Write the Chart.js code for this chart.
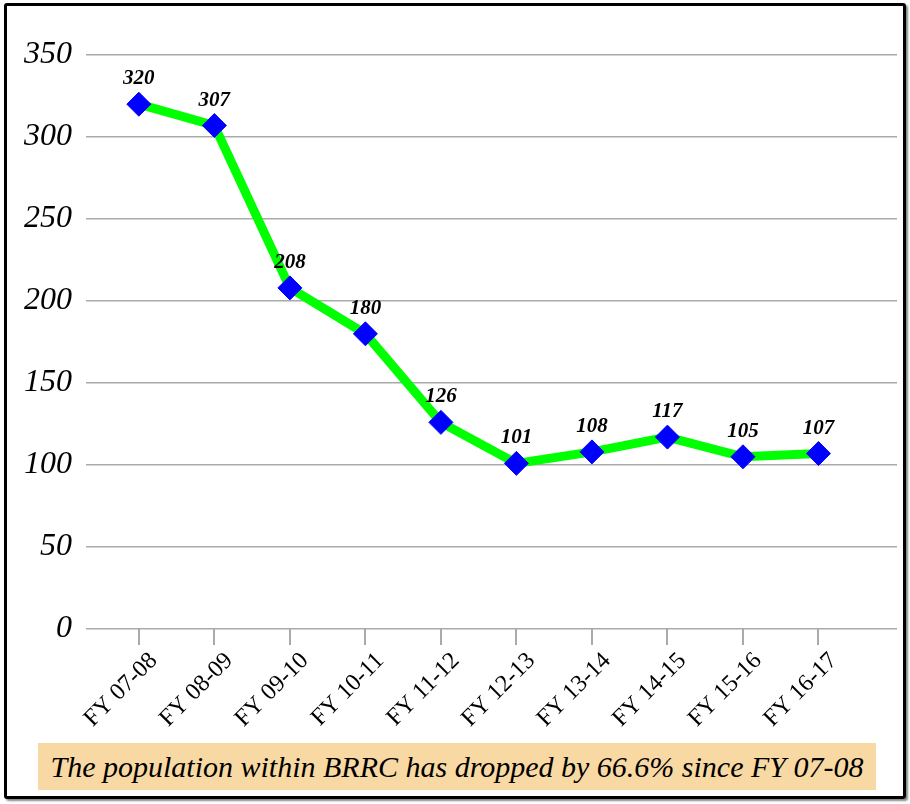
<!DOCTYPE html>
<html>
<head>
<meta charset="utf-8">
<script src="https://cdn.jsdelivr.net/npm/chart.js@4"></script>
<style>
  html, body { margin: 0; padding: 0; background: #fff; }
  #frame {
    position: absolute; left: 4px; top: 3px; width: 896px; height: 790px;
    border: 3px solid #000; border-radius: 3px; box-shadow: 2px 2px 2px #888;
  }
  #wrap { position: absolute; left: 0; top: 0; width: 910px; height: 740px; }
  #note {
    position: absolute; left: 38px; top: 743px; width: 838px; height: 47px;
    background: #f9d9a3; font: italic 30px "Times New Roman", "Liberation Serif", Times, serif;
    line-height: 47px; text-align: center; color: #000;
  }
</style>
</head>
<body>
<div id="frame"></div>
<div id="wrap"><canvas id="chartpoint"></canvas></div>
<div id="note">The population within BRRC has dropped by 66.6% since FY 07-08</div>
<script>
const years = ['FY 07-08', 'FY 08-09', 'FY 09-10', 'FY 10-11', 'FY 11-12', 'FY 12-13', 'FY 13-14', 'FY 14-15', 'FY 15-16', 'FY 16-17'];
const population = [320, 307, 208, 180, 126, 101, 108, 117, 105, 107];
const yTicks = [0, 50, 100, 150, 200, 250, 300, 350];

const serif = '"Times New Roman", "Liberation Serif", Times, serif';
const ctx = document.getElementById('chartpoint');

// numbers above each diamond
const valueLabels = {
    id: 'valueLabels',
    afterDatasetsDraw(chart) {
        const c = chart.ctx;
        const meta = chart.getDatasetMeta(0);
        c.save();
        c.font = 'italic bold 21px ' + serif;
        c.fillStyle = '#000';
        c.textAlign = 'center';
        c.textBaseline = 'alphabetic';
        meta.data.forEach((pt, i) => {
            c.fillText(population[i], pt.x, pt.y - 20);
        });
        c.restore();
    }
};

const chart = new Chart(ctx, {
    type: 'line',
    data: {
        datasets: [{
            data: population.map((v, i) => ({x: i, y: v})),
            borderColor: '#00ff00',
            borderWidth: 9,
            tension: 0,
            pointStyle: 'rectRot',
            pointRadius: 12,
            pointHoverRadius: 12,
            pointBackgroundColor: '#0000ff',
            pointBorderColor: '#0000ff',
            pointBorderWidth: 1,
            clip: false
        }]
    },
    options: {
        responsive: true,
        maintainAspectRatio: false,
        animation: false,
        layout: { padding: { top: 55, right: 7, left: 0, bottom: 0 } },
        plugins: { legend: { display: false }, tooltip: { enabled: false } },
        scales: {
            x: {
                type: 'linear',
                min: -0.7,
                max: 10.04,
                afterBuildTicks: (s) => { s.ticks = years.map((_, i) => ({value: i})); },
                afterFit: (s) => { s.height = 111; },
                border: { display: false },
                grid: { drawOnChartArea: false, drawTicks: true, tickLength: 16, color: '#aaaaaa', lineWidth: 2 },
                ticks: {
                    autoSkip: false,
                    minRotation: 45,
                    maxRotation: 45,
                    padding: 2,
                    labelOffset: 15,
                    color: '#000',
                    font: { family: serif, size: 24 },
                    callback: (v) => years[v]
                }
            },
            y: {
                min: 0,
                max: 350,
                afterBuildTicks: (s) => { s.ticks = yTicks.map(v => ({value: v})); },
                afterFit: (s) => { s.width = 86; },
                border: { display: false },
                grid: { drawTicks: false, color: '#aaaaaa', lineWidth: 1.5 },
                ticks: {
                    padding: 14,
                    color: '#000',
                    font: { family: serif, size: 32, style: 'italic' }
                }
            }
        }
    },
    plugins: [valueLabels]
});
</script>
</body>
</html>
